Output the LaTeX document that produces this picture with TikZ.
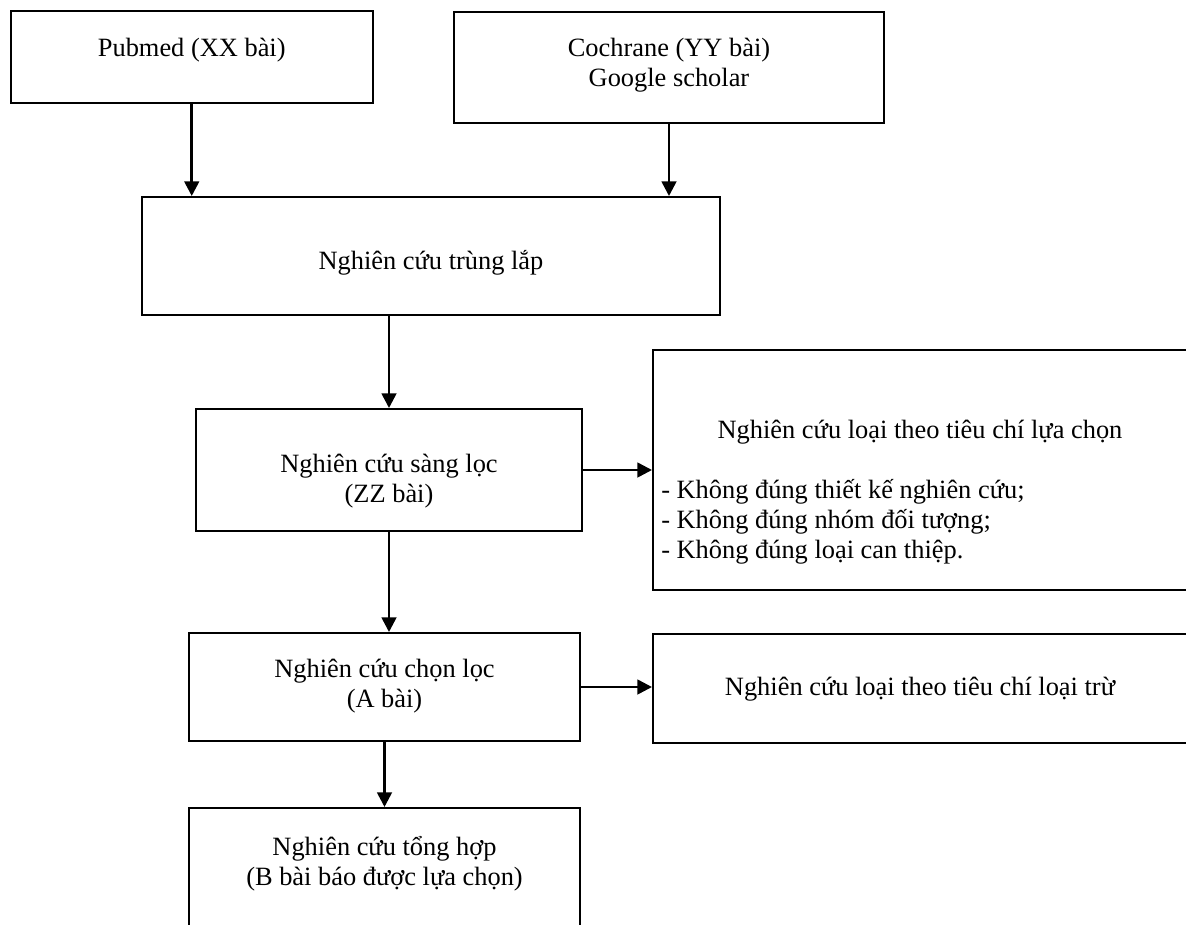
\documentclass[tikz,border=0pt]{standalone}
\usepackage{fontspec}
\setmainfont{Liberation Serif}
\usepackage{tikz}
\usetikzlibrary{arrows.meta,calc}
\tikzset{
  box/.style={draw=black, line width=1.5pt, inner sep=0pt},
  sz/.style 2 args={minimum width=#1*0.75pt, minimum height=#2*0.75pt},
  txt/.style={font=\fontsize{19.8}{22.5}\selectfont, align=center, inner sep=0pt},
  arr/.style={draw=black, line width=2pt, -{Triangle[length=11pt,width=11pt]}},
}

\begin{document}
\begin{tikzpicture}[x=0.75pt, y=-0.75pt]
  \useasboundingbox (0,0) rectangle (1186,925);
  \clip (0,0) rectangle (1186,925);
  \fill[white] (0,0) rectangle (1186,925);
  % boxes
  \node[box,sz={362.5}{92}] (pub) at (191.75,57) {};
  \node[box,sz={430}{111}] (coch) at (669,67.5) {};
  \node[box,sz={578}{118}] (trung) at (431,256) {};
  \node[box,sz={386}{122}] (sang) at (389,470) {};
  \node[box,sz={547}{240}] (loai1) at (926.5,470) {};
  \node[box,sz={391}{108}] (chon) at (384.5,687) {};
  \node[box,sz={547}{109}] (loai2) at (926.5,688.5) {};
  \node[box,sz={391}{152}] (tong) at (384.5,884) {};
  % texts
  \node[txt] (pubt) at (191.75,50) {Pubmed (XX bài)};
  \node[txt] (cocht) at (669,65) {Cochrane (YY bài)\\Google scholar};
  \node[txt] (trungt) at (431,263) {Nghiên cứu trùng lắp};
  \node[txt] (sangt) at (389,481.5) {Nghiên cứu sàng lọc\\(ZZ bài)};
  \node[txt] (loai1h) at (920,432) {Nghiên cứu loại theo tiêu chí lựa chọn};
  \node[txt,align=left,anchor=west] (loai1l) at (661,522)
    {- Không đúng thiết kế nghiên cứu;\\- Không đúng nhóm đối tượng;\\- Không đúng loại can thiệp.};
  \node[txt] (chont) at (384.5,686) {Nghiên cứu chọn lọc\\(A bài)};
  \node[txt] (loai2t) at (920,689) {Nghiên cứu loại theo tiêu chí loại trừ};
  \node[txt] (tongt) at (384.5,864) {Nghiên cứu tổng hợp\\(B bài báo được lựa chọn)};
  % arrows
  \draw[arr] (pub.south) -- (pub.south |- trung.north);
  \draw[arr] (coch.south) -- (coch.south |- trung.north);
  \draw[arr] (sang.north |- trung.south) -- (sang.north);
  \draw[arr] (sang.south) -- (sang.south |- chon.north);
  \draw[arr] (chon.south) -- (tong.north);
  \draw[arr] (sang.east) -- (sang.east -| loai1.west);
  \draw[arr] (chon.east) -- (chon.east -| loai2.west);
\end{tikzpicture}
\end{document}
